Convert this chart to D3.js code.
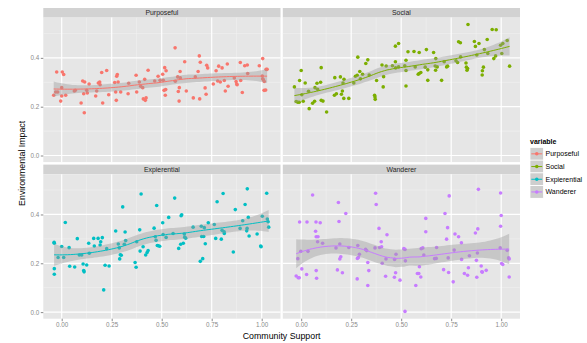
<!DOCTYPE html>
<html>
<head>
<meta charset="utf-8">
<script src="https://cdn.jsdelivr.net/npm/d3@7"></script>
<style>
  html, body { margin: 0; padding: 0; background: #ffffff; }
  svg { display: block; font-family: "Liberation Sans", Arial, Helvetica, sans-serif; }
</style>
</head>
<body>
<svg id="chart" width="587" height="343"></svg>
<script>
// Facet order and observations: [community support, environmental impact]
const categories = ["Purposeful", "Social", "Expierential", "Wanderer"];

const purposeful = [
  [-0.04,0.247],[-0.03,0.26],[-0.02,0.26],[-0.025,0.342],[-0.005,0.223],[0.0,0.278],[0.0,0.244],[0.003,0.342],
  [0.01,0.332],[0.02,0.247],[0.063,0.264],[0.068,0.267],[0.097,0.215],[0.105,0.305],[0.115,0.301],[0.11,0.253],
  [0.113,0.175],[0.125,0.267],[0.128,0.256],[0.137,0.293],[0.17,0.244],[0.175,0.264],[0.183,0.297],[0.19,0.301],
  [0.192,0.29],[0.2,0.34],[0.205,0.215],[0.225,0.348],[0.235,0.249],[0.265,0.299],[0.27,0.26],[0.273,0.226],
  [0.275,0.325],[0.278,0.332],[0.282,0.301],[0.295,0.26],[0.332,0.253],[0.335,0.296],[0.372,0.329],[0.375,0.26],
  [0.388,0.301],[0.395,0.284],[0.405,0.278],[0.408,0.232],[0.418,0.226],[0.422,0.236],[0.415,0.312],[0.432,0.349],
  [0.465,0.305],[0.482,0.325],[0.492,0.308],[0.505,0.333],[0.508,0.308],[0.512,0.267],[0.515,0.36],[0.52,0.27],
  [0.518,0.247],[0.522,0.347],[0.567,0.441],[0.568,0.304],[0.58,0.322],[0.583,0.262],[0.587,0.223],[0.588,0.278],
  [0.592,0.344],[0.593,0.318],[0.615,0.384],[0.623,0.264],[0.658,0.236],[0.668,0.322],[0.682,0.344],[0.688,0.408],
  [0.69,0.232],[0.693,0.382],[0.717,0.277],[0.722,0.251],[0.725,0.37],[0.73,0.359],[0.758,0.293],[0.772,0.347],
  [0.78,0.305],[0.785,0.366],[0.793,0.301],[0.802,0.359],[0.813,0.307],[0.818,0.264],[0.828,0.375],[0.832,0.284],
  [0.863,0.318],[0.872,0.303],[0.875,0.293],[0.877,0.29],[0.893,0.381],[0.895,0.307],[0.903,0.258],[0.915,0.368],
  [0.928,0.371],[0.93,0.336],[0.988,0.368],[1.005,0.397],[1.003,0.326],[1.005,0.314],[1.008,0.31],[1.013,0.303],
  [1.012,0.267],[1.02,0.268],[1.022,0.353],[1.027,0.353]
];

const social = [
  [-0.034,0.281],[-0.025,0.221],[-0.017,0.218],[-0.01,0.218],[-0.008,0.307],[0.0,0.348],[0.003,0.249],[0.01,0.222],
  [0.02,0.297],[0.037,0.263],[0.04,0.192],[0.057,0.214],[0.067,0.222],[0.069,0.278],[0.079,0.296],[0.082,0.271],
  [0.097,0.3],[0.1,0.36],[0.1,0.226],[0.109,0.223],[0.127,0.178],[0.166,0.247],[0.168,0.319],[0.176,0.253],
  [0.196,0.322],[0.201,0.251],[0.206,0.264],[0.209,0.297],[0.213,0.234],[0.214,0.312],[0.238,0.234],[0.263,0.297],
  [0.271,0.325],[0.28,0.329],[0.283,0.403],[0.293,0.344],[0.296,0.314],[0.307,0.333],[0.323,0.377],[0.333,0.392],
  [0.34,0.33],[0.367,0.247],[0.369,0.24],[0.37,0.23],[0.377,0.307],[0.404,0.371],[0.41,0.281],[0.412,0.323],
  [0.425,0.367],[0.456,0.368],[0.471,0.384],[0.471,0.448],[0.472,0.359],[0.487,0.459],[0.487,0.363],[0.518,0.368],
  [0.524,0.39],[0.524,0.285],[0.524,0.348],[0.534,0.425],[0.564,0.426],[0.57,0.363],[0.585,0.333],[0.59,0.422],
  [0.59,0.336],[0.598,0.34],[0.62,0.362],[0.626,0.434],[0.633,0.308],[0.633,0.351],[0.662,0.422],[0.67,0.367],
  [0.672,0.349],[0.673,0.397],[0.68,0.363],[0.702,0.308],[0.715,0.384],[0.727,0.363],[0.732,0.366],[0.774,0.388],
  [0.782,0.381],[0.787,0.466],[0.796,0.462],[0.797,0.404],[0.824,0.379],[0.826,0.362],[0.829,0.349],[0.832,0.356],
  [0.834,0.537],[0.866,0.467],[0.871,0.447],[0.878,0.412],[0.889,0.459],[0.905,0.33],[0.906,0.347],[0.911,0.362],
  [0.916,0.434],[0.93,0.475],[0.933,0.418],[0.955,0.516],[0.975,0.515],[0.963,0.397],[0.972,0.408],[0.997,0.452],
  [1.003,0.418],[1.008,0.459],[1.03,0.471],[1.042,0.366]
];

const expierential = [
  [-0.038,0.286],[-0.037,0.282],[-0.037,0.178],[-0.037,0.155],[-0.018,0.224],[0.0,0.269],[0.01,0.224],[0.018,0.367],
  [0.037,0.264],[0.04,0.188],[0.065,0.185],[0.078,0.301],[0.088,0.234],[0.1,0.234],[0.107,0.197],[0.11,0.17],
  [0.112,0.165],[0.125,0.193],[0.135,0.282],[0.138,0.241],[0.16,0.302],[0.163,0.271],[0.182,0.302],[0.192,0.275],
  [0.195,0.288],[0.203,0.305],[0.21,0.091],[0.217,0.192],[0.225,0.26],[0.237,0.189],[0.27,0.332],[0.283,0.279],
  [0.288,0.263],[0.29,0.218],[0.293,0.235],[0.298,0.233],[0.305,0.431],[0.313,0.278],[0.317,0.328],[0.32,0.293],
  [0.367,0.203],[0.372,0.184],[0.375,0.288],[0.39,0.337],[0.392,0.25],[0.397,0.484],[0.407,0.268],[0.42,0.234],
  [0.427,0.244],[0.432,0.252],[0.462,0.344],[0.468,0.309],[0.472,0.294],[0.475,0.437],[0.478,0.273],[0.483,0.272],
  [0.49,0.27],[0.505,0.366],[0.507,0.318],[0.522,0.306],[0.535,0.388],[0.557,0.322],[0.565,0.467],[0.585,0.261],
  [0.595,0.278],[0.597,0.395],[0.6,0.399],[0.608,0.282],[0.613,0.32],[0.615,0.307],[0.62,0.303],[0.657,0.348],
  [0.693,0.208],[0.698,0.352],[0.7,0.31],[0.705,0.219],[0.71,0.31],[0.713,0.346],[0.718,0.28],[0.733,0.366],
  [0.763,0.359],[0.77,0.302],[0.777,0.452],[0.798,0.299],[0.802,0.335],[0.807,0.486],[0.812,0.329],[0.813,0.322],
  [0.858,0.246],[0.868,0.42],[0.892,0.343],[0.905,0.374],[0.917,0.441],[0.925,0.333],[0.927,0.343],[0.928,0.505],
  [0.933,0.388],[0.937,0.312],[0.977,0.32],[0.995,0.271],[0.997,0.268],[1.003,0.393],[1.025,0.487],[1.028,0.381],
  [1.032,0.37],[1.035,0.348]
];

const wanderer = [
  [-0.025,0.148],[-0.017,0.219],[-0.015,0.141],[-0.01,0.141],[-0.008,0.369],[-0.002,0.249],[0.003,0.177],[0.027,0.154],
  [0.029,0.369],[0.034,0.249],[0.057,0.48],[0.072,0.331],[0.074,0.369],[0.075,0.309],[0.075,0.17],[0.077,0.139],
  [0.082,0.288],[0.084,0.309],[0.095,0.366],[0.107,0.282],[0.174,0.263],[0.181,0.173],[0.186,0.449],[0.189,0.371],
  [0.193,0.218],[0.193,0.279],[0.198,0.227],[0.206,0.161],[0.223,0.404],[0.238,0.265],[0.28,0.136],[0.283,0.273],
  [0.281,0.22],[0.286,0.224],[0.291,0.237],[0.322,0.257],[0.327,0.252],[0.333,0.203],[0.333,0.109],[0.338,0.17],
  [0.369,0.263],[0.372,0.487],[0.375,0.441],[0.389,0.343],[0.392,0.265],[0.4,0.288],[0.402,0.268],[0.405,0.2],
  [0.424,0.218],[0.429,0.317],[0.422,0.147],[0.467,0.216],[0.472,0.161],[0.474,0.237],[0.466,0.143],[0.494,0.131],
  [0.513,0.26],[0.519,0.003],[0.519,0.257],[0.521,0.21],[0.573,0.109],[0.581,0.158],[0.588,0.158],[0.591,0.186],
  [0.598,0.144],[0.6,0.26],[0.608,0.263],[0.613,0.234],[0.623,0.384],[0.623,0.329],[0.667,0.219],[0.675,0.22],
  [0.677,0.265],[0.712,0.174],[0.719,0.404],[0.727,0.299],[0.732,0.346],[0.735,0.222],[0.737,0.162],[0.74,0.476],
  [0.76,0.124],[0.765,0.254],[0.769,0.32],[0.787,0.309],[0.801,0.284],[0.802,0.216],[0.816,0.158],[0.832,0.151],
  [0.841,0.231],[0.836,0.182],[0.871,0.324],[0.876,0.212],[0.881,0.242],[0.883,0.341],[0.886,0.503],[0.878,0.143],
  [0.9,0.189],[0.903,0.165],[0.906,0.164],[0.925,0.171],[0.997,0.488],[1.0,0.396],[0.997,0.352],[0.995,0.263],
  [1.002,0.199],[1.008,0.195],[1.03,0.253],[1.037,0.222],[1.04,0.218],[1.04,0.144]
];

const seriesData = [purposeful, social, expierential, wanderer];

const xTicks = [0, 0.25, 0.5, 0.75, 1];
const xTickLabels = ["0.00", "0.25", "0.50", "0.75", "1.00"];
const xMinorTicks = [0.125, 0.375, 0.625, 0.875];
const yTicks = [0, 0.2, 0.4];
const yTickLabels = ["0.0", "0.2", "0.4"];
const yMinorTicks = [0.1, 0.3, 0.5];

const xTitle = "Community Support";
const yTitle = "Environmental Impact";
const legendTitle = "variable";

// ggplot2 default hue palette for four groups
const palette = ["#F8766D", "#7CAE00", "#00BFC4", "#C77CFF"];

// ---------- loess smoother (degree 2, span 0.75, tricube weights) ----------
function loessFit(points, span, nOut) {
  const xs = points.map(p => p[0]), ys = points.map(p => p[1]);
  const n = xs.length, q = Math.floor(n * span);

  function invert3(m) {
    const [a, b, c] = m[0], [d, e, f] = m[1], [g, h, k] = m[2];
    const A = e * k - f * h, B = -(d * k - f * g), C = d * h - e * g;
    const det = a * A + b * B + c * C;
    return [
      [A / det, -(b * k - c * h) / det, (b * f - c * e) / det],
      [B / det, (a * k - c * g) / det, -(a * f - c * d) / det],
      [C / det, -(a * h - b * g) / det, (a * e - b * d) / det]
    ];
  }

  // weights that map the observations onto the local fit at x0
  function operatorRow(x0) {
    const d = xs.map(x => Math.abs(x - x0));
    const sorted = d.slice().sort((a, b) => a - b);
    const h = Math.max(sorted[q - 1], 1e-12) * 1.0000001;
    const w = d.map(di => di < h ? Math.pow(1 - Math.pow(di / h, 3), 3) : 0);
    const S = [[0,0,0],[0,0,0],[0,0,0]];
    for (let i = 0; i < n; i++) {
      if (!w[i]) continue;
      const dx = xs[i] - x0, b = [1, dx, dx * dx];
      for (let r = 0; r < 3; r++) for (let c = 0; c < 3; c++) S[r][c] += w[i] * b[r] * b[c];
    }
    const c0 = invert3(S)[0];
    return w.map((wi, i) => {
      if (!wi) return 0;
      const dx = xs[i] - x0;
      return wi * (c0[0] + c0[1] * dx + c0[2] * dx * dx);
    });
  }

  // hat matrix at the observations -> residual scale and degrees of freedom
  const L = xs.map(x => operatorRow(x));
  let rss = 0;
  for (let i = 0; i < n; i++) {
    let fit = 0;
    for (let j = 0; j < n; j++) fit += L[i][j] * ys[j];
    rss += (ys[i] - fit) ** 2;
  }
  const IL = L.map((row, i) => row.map((v, j) => (i === j ? 1 : 0) - v));
  const M = Array.from({ length: n }, () => new Array(n).fill(0));
  for (let k = 0; k < n; k++) {
    const rk = IL[k];
    for (let i = 0; i < n; i++) {
      const a = rk[i];
      if (!a) continue;
      const Mi = M[i];
      for (let j = 0; j < n; j++) Mi[j] += a * rk[j];
    }
  }
  let delta1 = 0, delta2 = 0;
  for (let i = 0; i < n; i++) {
    delta1 += M[i][i];
    for (let j = 0; j < n; j++) delta2 += M[i][j] * M[j][i];
  }
  const s = Math.sqrt(rss / delta1);
  const df = delta1 * delta1 / delta2;
  const z = 1.959964;
  const t = z + (z ** 3 + z) / (4 * df) + (5 * z ** 5 + 16 * z ** 3 + 3 * z) / (96 * df * df);

  const [lo, hi] = d3.extent(xs);
  const out = [];
  for (let k = 0; k < nOut; k++) {
    const x0 = lo + (hi - lo) * k / (nOut - 1);
    const l = operatorRow(x0);
    let fit = 0, ss = 0;
    for (let j = 0; j < n; j++) { fit += l[j] * ys[j]; ss += l[j] * l[j]; }
    const se = s * Math.sqrt(ss);
    out.push({ x: x0, y: fit, lo: fit - t * se, hi: fit + t * se });
  }
  return out;
}

// ---------- layout ----------
const svg = d3.select("#chart");
const plotLeft = 43.3, plotRight = 520, hGap = 2.3;
const panelW = (plotRight - plotLeft - hGap) / 2;
const stripH = 9.6, panelH = 144.5, vGap = 2.5, topY = 8;

const x = d3.scaleLinear().domain([-0.092, 1.094]).range([0, panelW]);
const y = d3.scaleLinear().domain([-0.027, 0.565]).range([panelH, 0]);

const axisGrey = "#8A8A8A";

categories.forEach((cat, idx) => {
  const col = idx % 2, row = Math.floor(idx / 2);
  const px = plotLeft + col * (panelW + hGap);
  const sy = topY + row * (stripH + panelH + vGap);
  const py = sy + stripH;

  // strip
  svg.append("rect").attr("x", px).attr("y", sy).attr("width", panelW).attr("height", stripH)
    .attr("fill", "#D2D2D2");
  svg.append("text").attr("x", px + panelW / 2).attr("y", sy + stripH / 2 + 2.4)
    .attr("text-anchor", "middle").attr("font-size", 6.9).attr("fill", "#262626").text(cat);

  const g = svg.append("g").attr("transform", `translate(${px},${py})`);
  g.append("rect").attr("width", panelW).attr("height", panelH).attr("fill", "#E6E6E6");

  const clipId = "clip" + idx;
  g.append("clipPath").attr("id", clipId).append("rect").attr("width", panelW).attr("height", panelH);

  // grid lines
  g.selectAll(".xminor").data(xMinorTicks).join("line")
    .attr("x1", d => x(d)).attr("x2", d => x(d)).attr("y1", 0).attr("y2", panelH)
    .attr("stroke", "#F2F2F2").attr("stroke-width", 0.6);
  g.selectAll(".yminor").data(yMinorTicks).join("line")
    .attr("y1", d => y(d)).attr("y2", d => y(d)).attr("x1", 0).attr("x2", panelW)
    .attr("stroke", "#F2F2F2").attr("stroke-width", 0.6);
  g.selectAll(".xmajor").data(xTicks).join("line")
    .attr("x1", d => x(d)).attr("x2", d => x(d)).attr("y1", 0).attr("y2", panelH)
    .attr("stroke", "#FFFFFF").attr("stroke-width", 1.2);
  g.selectAll(".ymajor").data(yTicks).join("line")
    .attr("y1", d => y(d)).attr("y2", d => y(d)).attr("x1", 0).attr("x2", panelW)
    .attr("stroke", "#FFFFFF").attr("stroke-width", 1.2);

  const plot = g.append("g").attr("clip-path", `url(#${clipId})`);
  const pts = seriesData[idx];
  plot.selectAll("circle").data(pts).join("circle")
    .attr("cx", d => x(d[0])).attr("cy", d => y(d[1])).attr("r", 1.8)
    .attr("fill", palette[idx]);

  const fit = loessFit(pts, 0.75, 80);
  plot.append("path").datum(fit)
    .attr("d", d3.area().x(d => x(d.x)).y0(d => y(d.lo)).y1(d => y(d.hi)))
    .attr("fill", "#999999").attr("fill-opacity", 0.4);
  plot.append("path").datum(fit)
    .attr("d", d3.line().x(d => x(d.x)).y(d => y(d.y)))
    .attr("fill", "none").attr("stroke", palette[idx]).attr("stroke-width", 1);

  // left axis
  if (col === 0) {
    const ax = svg.append("g").attr("transform", `translate(${px},${py})`)
      .call(d3.axisLeft(y).tickValues(yTicks).tickFormat((d, i) => yTickLabels[i]).tickSize(2.5).tickPadding(1.5));
    ax.select(".domain").remove();
    ax.selectAll("line").attr("stroke", axisGrey);
    ax.selectAll("text").attr("fill", axisGrey).attr("font-size", 6.3)
      .attr("font-family", "'Liberation Sans', Arial, sans-serif");
  }
  // bottom axis
  if (row === 1) {
    const ax = svg.append("g").attr("transform", `translate(${px},${py + panelH})`)
      .call(d3.axisBottom(x).tickValues(xTicks).tickFormat((d, i) => xTickLabels[i]).tickSize(2.5).tickPadding(1.5));
    ax.select(".domain").remove();
    ax.selectAll("line").attr("stroke", axisGrey);
    ax.selectAll("text").attr("fill", axisGrey).attr("font-size", 6.3)
      .attr("font-family", "'Liberation Sans', Arial, sans-serif");
  }
});

// axis titles
svg.append("text").attr("x", (plotLeft + plotRight) / 2).attr("y", 338.5)
  .attr("text-anchor", "middle").attr("font-size", 8.8).attr("fill", "#000").text(xTitle);
svg.append("text").attr("transform", `translate(24.5,${(topY + 318.7) / 2}) rotate(-90)`)
  .attr("text-anchor", "middle").attr("font-size", 8.8).attr("fill", "#000").text(yTitle);

// legend
const lg = svg.append("g").attr("transform", "translate(530,0)");
lg.append("text").attr("x", 0).attr("y", 144).attr("font-size", 7).attr("font-weight", "bold")
  .attr("fill", "#000").text(legendTitle);
categories.forEach((cat, i) => {
  const ky = 147.5 + i * 12.7;
  lg.append("rect").attr("x", 0).attr("y", ky).attr("width", 13.5).attr("height", 12.7)
    .attr("fill", "#F2F2F2").attr("stroke", "#FFFFFF").attr("stroke-width", 0.8);
  lg.append("rect").attr("x", 0.4).attr("y", ky + 0.4).attr("width", 12.7).attr("height", 11.9)
    .attr("fill", "#999999").attr("fill-opacity", 0.4);
  lg.append("line").attr("x1", 1.3).attr("x2", 12.2).attr("y1", ky + 6.35).attr("y2", ky + 6.35)
    .attr("stroke", palette[i]).attr("stroke-width", 1);
  lg.append("circle").attr("cx", 6.75).attr("cy", ky + 6.35).attr("r", 1.75).attr("fill", palette[i]);
  lg.append("text").attr("x", 15.5).attr("y", ky + 8.8).attr("font-size", 7).attr("fill", "#000").text(cat);
});
</script>
</body>
</html>
